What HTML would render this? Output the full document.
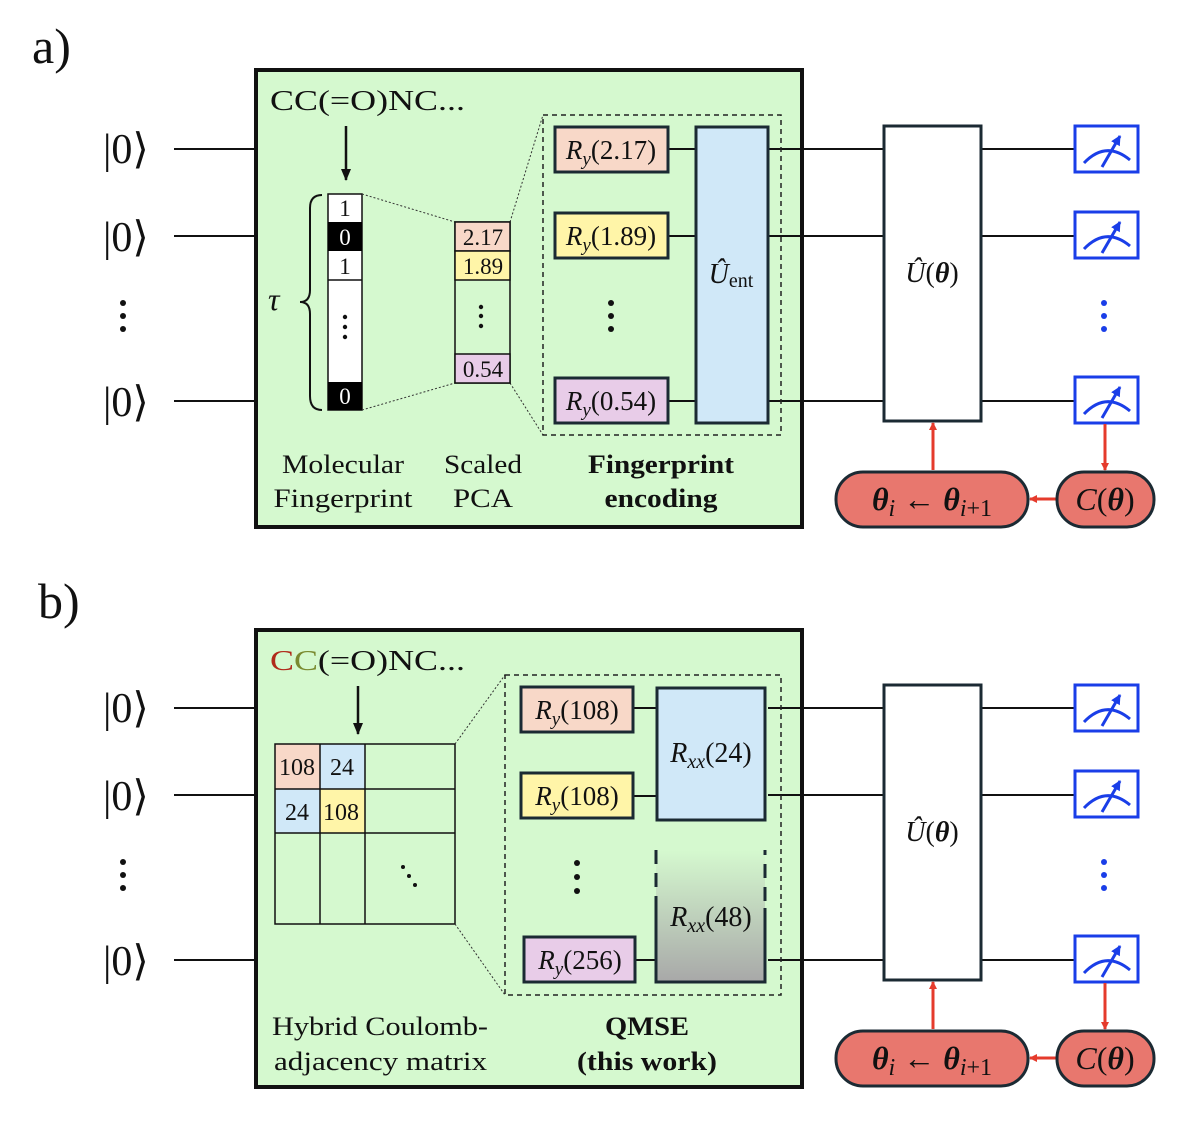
<!DOCTYPE html>
<html><head><meta charset="utf-8"><style>
body{margin:0;background:#fff}
svg{display:block}
text{font-family:"Liberation Serif",serif;fill:#111}
.it{font-style:italic}
</style></head><body>
<svg width="1200" height="1121" viewBox="0 0 1200 1121" xmlns="http://www.w3.org/2000/svg">
<defs>
<marker id="rh" markerWidth="8" markerHeight="8" refX="7" refY="4" orient="auto" markerUnits="userSpaceOnUse"><path d="M0,0 L8,4 L0,8 z" fill="#e53b2c"/></marker>
<marker id="bh" markerWidth="12" markerHeight="12" refX="11" refY="6" orient="auto" markerUnits="userSpaceOnUse"><path d="M0,1 L12,6 L0,11 z" fill="#111"/></marker>
<marker id="mh" markerWidth="10" markerHeight="10" refX="9" refY="5" orient="auto" markerUnits="userSpaceOnUse"><path d="M0,0 L10,5 L0,10 z" fill="#1a3ee8"/></marker>
<linearGradient id="gg" x1="0" y1="0" x2="0" y2="1"><stop offset="0" stop-color="#d5f9cf"/><stop offset="1" stop-color="#a8a8a8"/></linearGradient>
<g id="right">
  <g stroke="#111" stroke-width="2">
    <line x1="768" y1="149" x2="883" y2="149"/><line x1="768" y1="236" x2="883" y2="236"/><line x1="768" y1="401" x2="883" y2="401"/>
    <line x1="981" y1="149" x2="1075" y2="149"/><line x1="981" y1="236" x2="1075" y2="236"/><line x1="981" y1="401" x2="1075" y2="401"/>
    <line x1="174" y1="149" x2="255" y2="149"/><line x1="174" y1="236" x2="255" y2="236"/><line x1="174" y1="401" x2="255" y2="401"/>
  </g>
  <rect x="884" y="126" width="97" height="295" fill="#fff" stroke="#1b2a33" stroke-width="3"/>
  <text x="932" y="282" font-size="28" text-anchor="middle"><tspan class="it">Û</tspan>(<tspan font-weight="bold" class="it">θ</tspan>)</text>
  <g id="meas">
    <rect x="1075" y="126" width="63" height="46" fill="#fff" stroke="#1a3ee8" stroke-width="3"/>
    <path d="M1084,163 Q1106,140 1130,160" fill="none" stroke="#1a3ee8" stroke-width="3"/>
    <line x1="1102" y1="167" x2="1120" y2="136" stroke="#1a3ee8" stroke-width="3" marker-end="url(#mh)"/>
  </g>
  <use href="#meas" y="86"/>
  <use href="#meas" y="251"/>
  <g fill="#1a3ee8"><circle cx="1104" cy="303" r="3"/><circle cx="1104" cy="316" r="3"/><circle cx="1104" cy="329" r="3"/></g>
  <g fill="#111"><circle cx="123" cy="303" r="3"/><circle cx="123" cy="316" r="3"/><circle cx="123" cy="329" r="3"/></g>
  <text x="103" y="163" font-size="42">|0⟩</text>
  <text x="103" y="251" font-size="42">|0⟩</text>
  <text x="103" y="416" font-size="42">|0⟩</text>
  <line x1="933" y1="470" x2="933" y2="423" stroke="#e53b2c" stroke-width="3" marker-end="url(#rh)"/>
  <line x1="1105" y1="424" x2="1105" y2="470" stroke="#e53b2c" stroke-width="3" marker-end="url(#rh)"/>
  <line x1="1057" y1="499" x2="1030" y2="499" stroke="#e53b2c" stroke-width="3" marker-end="url(#rh)"/>
  <rect x="836" y="472" width="192" height="55" rx="27" fill="#e8776e" stroke="#1b2a33" stroke-width="3"/>
  <rect x="1057" y="472" width="97" height="55" rx="27" fill="#e8776e" stroke="#1b2a33" stroke-width="3"/>
  <text x="932" y="510" font-size="32" text-anchor="middle"><tspan font-weight="bold" class="it">θ</tspan><tspan class="it" font-size="24" dy="6">i</tspan><tspan dy="-6"> ← </tspan><tspan font-weight="bold" class="it">θ</tspan><tspan class="it" font-size="24" dy="6">i</tspan><tspan font-size="24">+1</tspan></text>
  <text x="1105" y="510" font-size="32" text-anchor="middle"><tspan class="it">C</tspan>(<tspan font-weight="bold" class="it">θ</tspan>)</text>
</g>
</defs>

<!-- Panel a -->
<text x="32" y="63" font-size="50">a)</text>
<rect x="256" y="70" width="546" height="457" fill="#d5f9cf" stroke="#111" stroke-width="4"/>
<use href="#right"/>
<text x="270" y="110" font-size="29" textLength="195" lengthAdjust="spacingAndGlyphs">CC(=O)NC...</text>
<line x1="346" y1="126" x2="346" y2="180" stroke="#111" stroke-width="2.5" marker-end="url(#bh)"/>
<rect x="328" y="194" width="34" height="216" fill="#fff" stroke="#111" stroke-width="1.5"/>
<rect x="328" y="222" width="34" height="29" fill="#000"/>
<line x1="328" y1="280" x2="362" y2="280" stroke="#111" stroke-width="1.5"/>
<rect x="328" y="382" width="34" height="28" fill="#000"/>
<text x="345" y="216" font-size="23" text-anchor="middle">1</text>
<text x="345" y="245" font-size="23" text-anchor="middle" style="fill:#fff">0</text>
<text x="345" y="274" font-size="23" text-anchor="middle">1</text>
<text x="345" y="404" font-size="23" text-anchor="middle" style="fill:#fff">0</text>
<g fill="#111"><circle cx="345" cy="317" r="2.2"/><circle cx="345" cy="327" r="2.2"/><circle cx="345" cy="337" r="2.2"/></g>
<path d="M322,195 Q310,195 310,208 L310,290 Q310,302 300,302 Q310,302 310,314 L310,396 Q310,410 322,410" fill="none" stroke="#111" stroke-width="2"/>
<text x="268" y="310" font-size="32" class="it">τ</text>
<g stroke="#333" stroke-width="1" stroke-dasharray="2,2">
<line x1="362" y1="194" x2="455" y2="222"/><line x1="362" y1="410" x2="455" y2="383"/>
<line x1="510" y1="222" x2="543" y2="115"/><line x1="510" y1="383" x2="543" y2="435"/>
</g>
<rect x="455" y="222" width="55" height="161" fill="#d5f9cf" stroke="#111" stroke-width="1.5"/>
<rect x="455" y="222" width="55" height="29" fill="#f8d8c8" stroke="#111" stroke-width="1.5"/>
<rect x="455" y="251" width="55" height="29" fill="#fff5a8" stroke="#111" stroke-width="1.5"/>
<rect x="455" y="354" width="55" height="29" fill="#e8cce8" stroke="#111" stroke-width="1.5"/>
<text x="483" y="245" font-size="23" text-anchor="middle">2.17</text>
<text x="483" y="274" font-size="23" text-anchor="middle">1.89</text>
<text x="483" y="377" font-size="23" text-anchor="middle">0.54</text>
<g fill="#111"><circle cx="481" cy="307" r="2.2"/><circle cx="481" cy="316" r="2.2"/><circle cx="481" cy="326" r="2.2"/></g>
<rect x="543" y="115" width="238" height="320" fill="none" stroke="#222" stroke-width="1.5" stroke-dasharray="5,4"/>
<g stroke="#111" stroke-width="2"><line x1="668" y1="149" x2="696" y2="149"/><line x1="668" y1="236" x2="696" y2="236"/><line x1="668" y1="401" x2="696" y2="401"/></g>
<rect x="555" y="127" width="113" height="45" fill="#f8d8c8" stroke="#1b2a33" stroke-width="3"/>
<rect x="555" y="213" width="113" height="45" fill="#fff5a8" stroke="#1b2a33" stroke-width="3"/>
<rect x="555" y="378" width="113" height="45" fill="#e8cce8" stroke="#1b2a33" stroke-width="3"/>
<text x="611" y="159" font-size="27" text-anchor="middle"><tspan class="it">R</tspan><tspan class="it" font-size="19" dy="6">y</tspan><tspan dy="-6">(2.17)</tspan></text>
<text x="611" y="245" font-size="27" text-anchor="middle"><tspan class="it">R</tspan><tspan class="it" font-size="19" dy="6">y</tspan><tspan dy="-6">(1.89)</tspan></text>
<text x="611" y="410" font-size="27" text-anchor="middle"><tspan class="it">R</tspan><tspan class="it" font-size="19" dy="6">y</tspan><tspan dy="-6">(0.54)</tspan></text>
<g fill="#111"><circle cx="611" cy="303" r="3"/><circle cx="611" cy="316" r="3"/><circle cx="611" cy="329" r="3"/></g>
<rect x="696" y="127" width="72" height="296" fill="#d0e8f8" stroke="#1b2a33" stroke-width="3"/>
<text x="731" y="283" font-size="28" text-anchor="middle"><tspan class="it">Û</tspan><tspan font-size="20" dy="4">ent</tspan></text>
<text x="343" y="473" font-size="26" text-anchor="middle" textLength="122" lengthAdjust="spacingAndGlyphs">Molecular</text>
<text x="343" y="507" font-size="26" text-anchor="middle" textLength="139" lengthAdjust="spacingAndGlyphs">Fingerprint</text>
<text x="483" y="473" font-size="26" text-anchor="middle" textLength="78" lengthAdjust="spacingAndGlyphs">Scaled</text>
<text x="483" y="507" font-size="26" text-anchor="middle" textLength="60" lengthAdjust="spacingAndGlyphs">PCA</text>
<text x="661" y="473" font-size="26" text-anchor="middle" font-weight="bold" textLength="146" lengthAdjust="spacingAndGlyphs">Fingerprint</text>
<text x="661" y="507" font-size="26" text-anchor="middle" font-weight="bold" textLength="113" lengthAdjust="spacingAndGlyphs">encoding</text>

<!-- Panel b -->
<text x="38" y="618" font-size="50">b)</text>
<rect x="256" y="630" width="546" height="457" fill="#d5f9cf" stroke="#111" stroke-width="4"/>
<use href="#right" y="559"/>
<text x="270" y="670" font-size="29" textLength="195" lengthAdjust="spacingAndGlyphs"><tspan style="fill:#b02a1a">C</tspan><tspan style="fill:#7a8a30">C</tspan>(=O)NC...</text>
<line x1="358" y1="686" x2="358" y2="734" stroke="#111" stroke-width="2.5" marker-end="url(#bh)"/>
<rect x="275" y="744" width="45" height="45" fill="#f8d8c8"/>
<rect x="320" y="744" width="45" height="45" fill="#d0e8f8"/>
<rect x="275" y="789" width="45" height="44" fill="#d0e8f8"/>
<rect x="320" y="789" width="45" height="44" fill="#fff5a8"/>
<g stroke="#111" stroke-width="1.5" fill="none">
<rect x="275" y="744" width="180" height="180"/>
<line x1="320" y1="744" x2="320" y2="924"/><line x1="365" y1="744" x2="365" y2="924"/>
<line x1="275" y1="789" x2="455" y2="789"/><line x1="275" y1="833" x2="455" y2="833"/>
</g>
<text x="297" y="775" font-size="24" text-anchor="middle">108</text>
<text x="342" y="775" font-size="24" text-anchor="middle">24</text>
<text x="297" y="820" font-size="24" text-anchor="middle">24</text>
<text x="341" y="820" font-size="24" text-anchor="middle">108</text>
<g fill="#111"><circle cx="403" cy="867" r="2"/><circle cx="409" cy="876" r="2"/><circle cx="415" cy="885" r="2"/></g>
<g stroke="#333" stroke-width="1" stroke-dasharray="2,2">
<line x1="455" y1="744" x2="505" y2="675"/><line x1="455" y1="924" x2="505" y2="995"/>
</g>
<rect x="505" y="675" width="276" height="320" fill="none" stroke="#222" stroke-width="1.5" stroke-dasharray="5,4"/>
<g stroke="#111" stroke-width="2"><line x1="633" y1="708" x2="657" y2="708"/><line x1="633" y1="796" x2="657" y2="796"/><line x1="635" y1="960" x2="657" y2="960"/></g>
<rect x="521" y="687" width="112" height="45" fill="#f8d8c8" stroke="#1b2a33" stroke-width="3"/>
<rect x="521" y="773" width="112" height="45" fill="#fff5a8" stroke="#1b2a33" stroke-width="3"/>
<rect x="524" y="937" width="111" height="45" fill="#e8cce8" stroke="#1b2a33" stroke-width="3"/>
<text x="577" y="719" font-size="27" text-anchor="middle"><tspan class="it">R</tspan><tspan class="it" font-size="19" dy="6">y</tspan><tspan dy="-6">(108)</tspan></text>
<text x="577" y="805" font-size="27" text-anchor="middle"><tspan class="it">R</tspan><tspan class="it" font-size="19" dy="6">y</tspan><tspan dy="-6">(108)</tspan></text>
<text x="580" y="969" font-size="27" text-anchor="middle"><tspan class="it">R</tspan><tspan class="it" font-size="19" dy="6">y</tspan><tspan dy="-6">(256)</tspan></text>
<g fill="#111"><circle cx="577" cy="863" r="3"/><circle cx="577" cy="877" r="3"/><circle cx="577" cy="891" r="3"/></g>
<rect x="657" y="688" width="108" height="132" fill="#d0e8f8" stroke="#1b2a33" stroke-width="3"/>
<text x="711" y="762" font-size="28" text-anchor="middle"><tspan class="it">R</tspan><tspan class="it" font-size="20" dy="6">xx</tspan><tspan dy="-6">(24)</tspan></text>
<rect x="656" y="850" width="109" height="132" fill="url(#gg)"/>
<path d="M656,850 L656,982 L765,982 L765,850" fill="none" stroke="#1b2a33" stroke-width="3" stroke-dasharray="14,9"/>
<path d="M656,908 L656,982 L765,982 L765,908" fill="none" stroke="#1b2a33" stroke-width="3"/>
<text x="711" y="926" font-size="28" text-anchor="middle"><tspan class="it">R</tspan><tspan class="it" font-size="20" dy="6">xx</tspan><tspan dy="-6">(48)</tspan></text>
<text x="272" y="1035" font-size="26" textLength="216" lengthAdjust="spacingAndGlyphs">Hybrid Coulomb-</text>
<text x="274" y="1070" font-size="26" textLength="213" lengthAdjust="spacingAndGlyphs">adjacency matrix</text>
<text x="647" y="1035" font-size="26" text-anchor="middle" font-weight="bold" textLength="84" lengthAdjust="spacingAndGlyphs">QMSE</text>
<text x="647" y="1070" font-size="26" text-anchor="middle" font-weight="bold" textLength="140" lengthAdjust="spacingAndGlyphs">(this work)</text>
</svg>
</body></html>
